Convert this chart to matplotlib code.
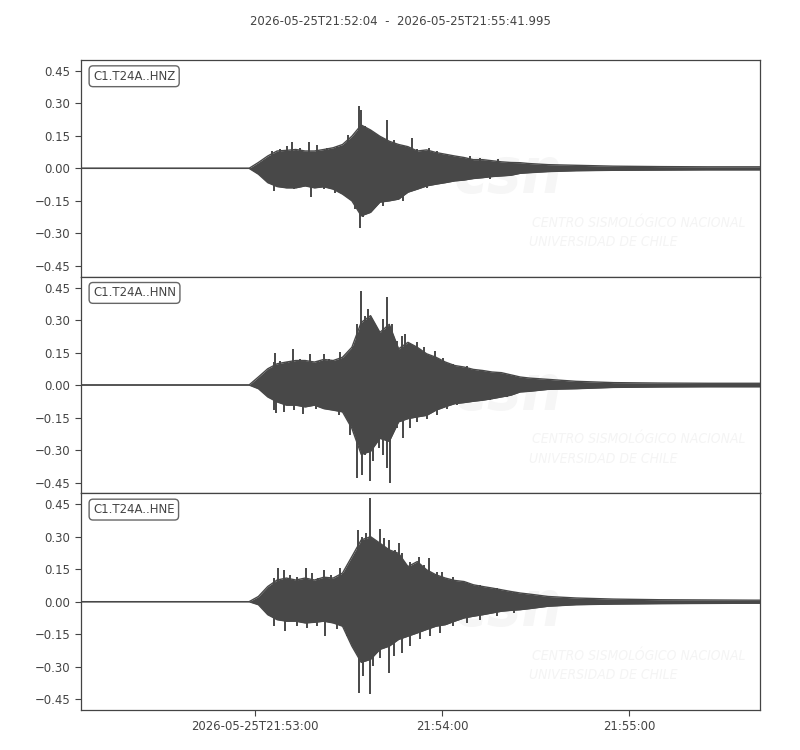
import pandas as pd
import numpy as np
import matplotlib
matplotlib.use('Agg')
import matplotlib.pyplot as plt
import matplotlib.dates as mdates
from matplotlib.ticker import FuncFormatter

plt.rcParams['font.family'] = ['DejaVu Sans']
plt.rcParams['font.stretch'] = 'condensed'

# traces: C1.T24A..HNZ / HNN / HNE, start 2026-05-25T21:52:04
start = pd.Timestamp('2026-05-25 21:52:04')
end = pd.Timestamp('2026-05-25 21:55:41.995')
channels = ['C1.T24A..HNZ', 'C1.T24A..HNN', 'C1.T24A..HNE']

# envelope sample times (seconds after start)
t_env = [0, 54, 57, 60, 63, 66, 69, 72, 75, 78, 81, 84, 87, 90, 93, 96, 99,
         102, 105, 108, 111, 114, 117, 120, 123, 126, 129, 132, 135, 138,
         141, 144, 150, 159, 171, 186, 201, 216, 218]

# upper / lower envelope
upper_z = [0, 0, 0.027, 0.057, 0.08, 0.083, 0.087, 0.08, 0.08, 0.087, 0.095, 0.11,
           0.148, 0.20, 0.177, 0.148, 0.125, 0.11, 0.10, 0.08, 0.085, 0.073, 0.065,
           0.057, 0.05, 0.04, 0.04, 0.035, 0.03, 0.027,
           0.026, 0.022, 0.017, 0.014, 0.01, 0.008, 0.007, 0.007, 0.007]
lower_z = [0, 0, -0.027, -0.066, -0.084, -0.09, -0.09, -0.081, -0.09, -0.085, -0.096, -0.119,
           -0.15, -0.219, -0.203, -0.156, -0.15, -0.142, -0.11, -0.096, -0.081, -0.073, -0.066,
           -0.058, -0.054, -0.047, -0.043, -0.038, -0.035, -0.032,
           -0.023, -0.02, -0.015, -0.011, -0.009, -0.008, -0.007, -0.007, -0.007]

upper_n = [0, 0, 0.037, 0.075, 0.098, 0.106, 0.113, 0.113, 0.106, 0.118, 0.113, 0.128,
           0.174, 0.289, 0.32, 0.243, 0.28, 0.167, 0.197, 0.174, 0.144, 0.128, 0.106,
           0.09, 0.083, 0.072, 0.067, 0.06, 0.057, 0.047,
           0.037, 0.032, 0.026, 0.017, 0.011, 0.009, 0.008, 0.008, 0.008]
lower_n = [0, 0, -0.017, -0.055, -0.078, -0.093, -0.093, -0.101, -0.093, -0.109, -0.116, -0.124,
           -0.20, -0.32, -0.306, -0.246, -0.26, -0.17, -0.155, -0.147, -0.14, -0.116, -0.10,
           -0.086, -0.081, -0.075, -0.07, -0.063, -0.055, -0.047,
           -0.032, -0.029, -0.02, -0.017, -0.011, -0.009, -0.008, -0.008, -0.008]

upper_e = [0, 0, 0.024, 0.07, 0.10, 0.109, 0.10, 0.109, 0.10, 0.113, 0.109, 0.132,
           0.208, 0.285, 0.30, 0.27, 0.239, 0.223, 0.162, 0.185, 0.147, 0.124, 0.109,
           0.098, 0.093, 0.078, 0.07, 0.063, 0.055, 0.047,
           0.04, 0.035, 0.024, 0.017, 0.012, 0.009, 0.008, 0.007, 0.007]
lower_e = [0, 0, -0.014, -0.06, -0.083, -0.09, -0.09, -0.098, -0.095, -0.09, -0.098, -0.113,
           -0.205, -0.28, -0.266, -0.22, -0.205, -0.174, -0.159, -0.144, -0.128, -0.113, -0.106,
           -0.09, -0.075, -0.067, -0.06, -0.052, -0.044, -0.04,
           -0.037, -0.032, -0.021, -0.014, -0.011, -0.009, -0.008, -0.007, -0.007]

# single spikes above the envelope (time in s, amplitude)
spike_t_z = [61.3, 64.0, 66.1, 67.8, 70.4, 73.1, 75.8, 79.0, 82.2, 83.8, 85.9, 87.5, 89.4, 89.9,
             91.3, 92.9, 95.0, 96.6, 98.2, 100.4, 103.6, 106.3, 107.9, 111.6, 114.3, 117.5,
             125.0, 128.2, 134.0,
             61.9, 65.1, 68.3, 74.0, 77.9, 81.6, 86.5, 88.1, 89.6, 90.7, 92.3, 93.9, 97.1,
             99.3, 103.4, 106.8, 111.1, 115.3, 123.9, 131.4]
spike_v_z = [0.080, 0.090, 0.102, 0.12, 0.095, 0.123, 0.110, 0.095, 0.102, 0.095, 0.156, 0.141, 0.29, 0.27,
             0.197, 0.179, 0.141, 0.133, 0.225, 0.133, 0.102, 0.14, 0.087, 0.095, 0.080, 0.064,
             0.057, 0.049, 0.041,
             -0.104, -0.093, -0.096, -0.133, -0.096, -0.112, -0.142, -0.188, -0.275, -0.226, -0.203, -0.165, -0.173,
             -0.142, -0.152, -0.096, -0.089, -0.066, -0.054, -0.047]

spike_t_n = [61.9, 62.4, 64.0, 66.1, 68.1, 70.4, 73.6, 76.0, 78.1, 79.7, 83.3, 85.4, 87.5, 88.6,
             89.8, 91.3, 92.3, 93.9, 95.7, 97.1, 98.2, 99.8, 101.4, 103.0, 103.9, 105.7, 107.9,
             110.0, 113.7, 116.4, 119.6, 123.9, 128.2, 133.5, 138.9,
             61.9, 62.8, 65.1, 68.3, 71.3, 75.6, 79.8, 83.0, 86.5, 88.6, 90.2, 91.3, 92.7,
             93.9, 95.7, 97.1, 98.2, 99.3, 101.4, 103.4, 105.7, 107.9, 111.1, 114.3, 117.5,
             120.7, 126.0, 131.4, 136.8]
spike_v_n = [0.106, 0.148, 0.113, 0.106, 0.167, 0.121, 0.144, 0.109, 0.144, 0.121, 0.151, 0.139, 0.174, 0.281,
             0.436, 0.32, 0.35, 0.281, 0.228, 0.304, 0.404, 0.281, 0.205, 0.228, 0.236, 0.19, 0.197,
             0.174, 0.159, 0.125, 0.098, 0.09, 0.067, 0.06, 0.044,
             -0.116, -0.13, -0.124, -0.116, -0.132, -0.109, -0.116, -0.139, -0.231, -0.43, -0.415, -0.323, -0.445,
             -0.353, -0.292, -0.323, -0.384, -0.453, -0.2, -0.246, -0.2, -0.17, -0.155, -0.139, -0.109,
             -0.093, -0.078, -0.07, -0.055]

spike_t_e = [61.9, 63.3, 65.1, 67.2, 69.4, 72.2, 74.2, 76.0, 78.1, 80.2, 83.3, 84.5, 87.5, 89.1,
             90.2, 91.6, 92.7, 93.9, 95.9, 97.3, 98.8, 100.9, 102.0, 103.0, 105.7, 108.4, 110.0,
             111.6, 114.3, 115.9, 119.6, 123.9, 128.2, 133.5, 138.9,
             61.9, 65.6, 69.4, 72.6, 75.8, 78.4, 82.2, 85.4, 87.5, 89.3, 90.7, 92.8, 93.9,
             96.0, 99.0, 100.4, 103.0, 105.7, 108.9, 112.1, 115.3, 119.6, 123.9, 128.2, 133.5, 138.9]
spike_v_e = [0.109, 0.155, 0.147, 0.124, 0.116, 0.155, 0.132, 0.109, 0.147, 0.124, 0.155, 0.132, 0.20, 0.33,
             0.30, 0.315, 0.477, 0.269, 0.334, 0.292, 0.285, 0.239, 0.27, 0.223, 0.185, 0.208, 0.17,
             0.20, 0.139, 0.139, 0.116, 0.093, 0.078, 0.063, 0.047,
             -0.113, -0.136, -0.113, -0.121, -0.113, -0.16, -0.128, -0.159, -0.205, -0.42, -0.343, -0.427, -0.297,
             -0.259, -0.327, -0.251, -0.236, -0.205, -0.174, -0.159, -0.144, -0.113, -0.098, -0.083, -0.067, -0.052]

uppers = [upper_z, upper_n, upper_e]
lowers = [lower_z, lower_n, lower_e]
spikes_t = [spike_t_z, spike_t_n, spike_t_e]
spikes_v = [spike_v_z, spike_v_n, spike_v_e]

trace_color = '#484848'
text_color = '#444444'
fsize = 9.4

fig, axes = plt.subplots(3, 1, figsize=(8, 7.5), dpi=100, sharex=True)
fig.subplots_adjust(left=0.101, right=0.95, top=0.92, bottom=0.0533, hspace=0)

times = start + pd.to_timedelta(t_env, unit='s')

for i, ax in enumerate(axes):
    # faint CSN watermark
    ax.text(0.55, 0.47, 'csn', transform=ax.transAxes, fontsize=46, fontweight='bold',
            style='italic', color='#f6f6f6', ha='left', va='center', zorder=0)
    ax.text(0.665, 0.25, 'CENTRO SISMOLÓGICO NACIONAL', transform=ax.transAxes, fontsize=10,
            style='italic', color='#f4f4f4', ha='left', va='center', zorder=0)
    ax.text(0.66, 0.16, 'UNIVERSIDAD DE CHILE', transform=ax.transAxes, fontsize=10,
            style='italic', color='#f4f4f4', ha='left', va='center', zorder=0)

    ax.fill_between(times, lowers[i], uppers[i], color=trace_color, linewidth=0, zorder=2)
    ax.plot(times, uppers[i], color=trace_color, linewidth=1, zorder=3)
    ax.plot(times, lowers[i], color=trace_color, linewidth=1, zorder=3)
    st = start + pd.to_timedelta(spikes_t[i], unit='s')
    ax.vlines(st, 0, spikes_v[i], color=trace_color, linewidth=1.4, zorder=3)

    ax.set_ylim(-0.5, 0.5)
    ax.set_yticks([-0.45, -0.30, -0.15, 0.0, 0.15, 0.30, 0.45])
    ax.yaxis.set_major_formatter(FuncFormatter(lambda v, p: f'{v:.2f}'.replace('-', '\u2212')))
    ax.tick_params(axis='y', direction='out', length=4, labelsize=fsize, colors=text_color)
    ax.tick_params(axis='x', direction='out', length=4, labelsize=fsize, colors=text_color)
    for s in ax.spines.values():
        s.set_color('#444444')
        s.set_linewidth(0.9)
    ax.text(0.018, 0.955, channels[i], transform=ax.transAxes, fontsize=fsize, color=text_color,
            ha='left', va='top',
            bbox=dict(boxstyle='round,pad=0.3', facecolor='white', edgecolor='#666666', linewidth=1))

axes[-1].set_xlim(start, end)
axes[-1].xaxis.set_major_locator(mdates.MinuteLocator())


def fmt_time(v, pos):
    d = mdates.num2date(v)
    if pos == 0:
        return d.strftime('%Y-%m-%dT%H:%M:%S')
    return d.strftime('%H:%M:%S')


axes[-1].xaxis.set_major_formatter(FuncFormatter(fmt_time))
for ax in axes[:-1]:
    ax.tick_params(axis='x', bottom=False, labelbottom=False)

fig.suptitle('2026-05-25T21:52:04  -  2026-05-25T21:55:41.995', y=0.98, fontsize=fsize, color=text_color)

fig.savefig('out.png', dpi=100)
